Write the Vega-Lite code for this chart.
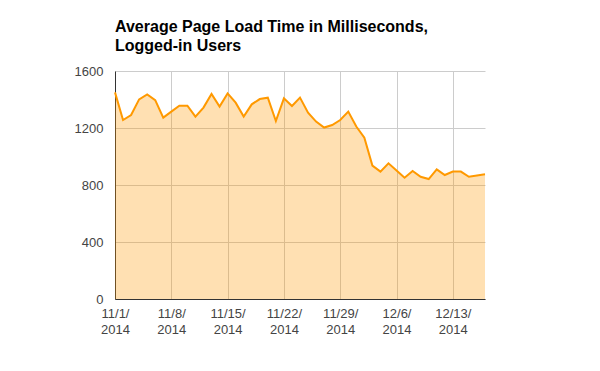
{
  "$schema": "https://vega.github.io/schema/vega-lite/v6.json",
  "width": 370,
  "height": 228,
  "autosize": {"type": "none"},
  "padding": {"left": 115, "top": 71, "right": 115, "bottom": 72},
  "background": "white",
  "title": {
    "text": ["Average Page Load Time in Milliseconds,", "Logged-in Users"],
    "anchor": "start",
    "frame": "group",
    "font": "Liberation Sans",
    "fontSize": 16,
    "fontWeight": "bold",
    "color": "#000000",
    "lineHeight": 19,
    "offset": 11
  },
  "data": {
    "values": [
      {"date": "2014-11-01", "ms": 1450},
      {"date": "2014-11-02", "ms": 1256},
      {"date": "2014-11-03", "ms": 1291},
      {"date": "2014-11-04", "ms": 1401},
      {"date": "2014-11-05", "ms": 1436},
      {"date": "2014-11-06", "ms": 1396},
      {"date": "2014-11-07", "ms": 1273},
      {"date": "2014-11-08", "ms": 1315},
      {"date": "2014-11-09", "ms": 1357},
      {"date": "2014-11-10", "ms": 1357},
      {"date": "2014-11-11", "ms": 1280},
      {"date": "2014-11-12", "ms": 1343},
      {"date": "2014-11-13", "ms": 1439},
      {"date": "2014-11-14", "ms": 1350},
      {"date": "2014-11-15", "ms": 1443},
      {"date": "2014-11-16", "ms": 1378},
      {"date": "2014-11-17", "ms": 1280},
      {"date": "2014-11-18", "ms": 1366},
      {"date": "2014-11-19", "ms": 1403},
      {"date": "2014-11-20", "ms": 1413},
      {"date": "2014-11-21", "ms": 1249},
      {"date": "2014-11-22", "ms": 1408},
      {"date": "2014-11-23", "ms": 1354},
      {"date": "2014-11-24", "ms": 1413},
      {"date": "2014-11-25", "ms": 1308},
      {"date": "2014-11-26", "ms": 1245},
      {"date": "2014-11-27", "ms": 1203},
      {"date": "2014-11-28", "ms": 1221},
      {"date": "2014-11-29", "ms": 1256},
      {"date": "2014-11-30", "ms": 1315},
      {"date": "2014-12-01", "ms": 1210},
      {"date": "2014-12-02", "ms": 1132},
      {"date": "2014-12-03", "ms": 936},
      {"date": "2014-12-04", "ms": 894},
      {"date": "2014-12-05", "ms": 952},
      {"date": "2014-12-06", "ms": 901},
      {"date": "2014-12-07", "ms": 851},
      {"date": "2014-12-08", "ms": 898},
      {"date": "2014-12-09", "ms": 858},
      {"date": "2014-12-10", "ms": 842},
      {"date": "2014-12-11", "ms": 910},
      {"date": "2014-12-12", "ms": 870},
      {"date": "2014-12-13", "ms": 894},
      {"date": "2014-12-14", "ms": 894},
      {"date": "2014-12-15", "ms": 858},
      {"date": "2014-12-16", "ms": 866},
      {"date": "2014-12-17", "ms": 875}
    ]
  },
  "encoding": {
    "x": {
      "field": "date",
      "type": "temporal",
      "scale": {"domain": [{"year": 2014, "month": 11, "date": 1}, {"year": 2014, "month": 12, "date": 17}], "nice": false},
      "axis": {
        "title": null,
        "values": [
          {"year": 2014, "month": 11, "date": 1},
          {"year": 2014, "month": 11, "date": 8},
          {"year": 2014, "month": 11, "date": 15},
          {"year": 2014, "month": 11, "date": 22},
          {"year": 2014, "month": 11, "date": 29},
          {"year": 2014, "month": 12, "date": 6},
          {"year": 2014, "month": 12, "date": 13}
        ],
        "labelExpr": "[timeFormat(datum.value, '%-m/%-d/'), timeFormat(datum.value, '%Y')]",
        "labelLineHeight": 16,
        "labelBaseline": "alphabetic",
        "labelPadding": 18,
        "ticks": false,
        "grid": true,
        "gridColor": "#cccccc",
        "domainColor": "#333333",
        "labelFont": "Liberation Sans",
        "labelFontSize": 13,
        "labelColor": "#444444",
        "labelFlush": false,
        "labelOverlap": false
      }
    },
    "y": {
      "field": "ms",
      "type": "quantitative",
      "scale": {"domain": [0, 1600], "nice": false},
      "axis": {
        "title": null,
        "values": [0, 400, 800, 1200, 1600],
        "format": "d",
        "ticks": false,
        "labelPadding": 12,
        "grid": true,
        "gridColor": "#cccccc",
        "domainColor": "#333333",
        "labelFont": "Liberation Sans",
        "labelFontSize": 13,
        "labelColor": "#444444"
      }
    }
  },
  "layer": [
    {"mark": {"type": "area", "color": "#ff9900", "opacity": 0.3}},
    {"mark": {"type": "line", "color": "#ff9900", "strokeWidth": 2}}
  ],
  "config": {"view": {"stroke": null}, "axis": {"zindex": 0}}
}
